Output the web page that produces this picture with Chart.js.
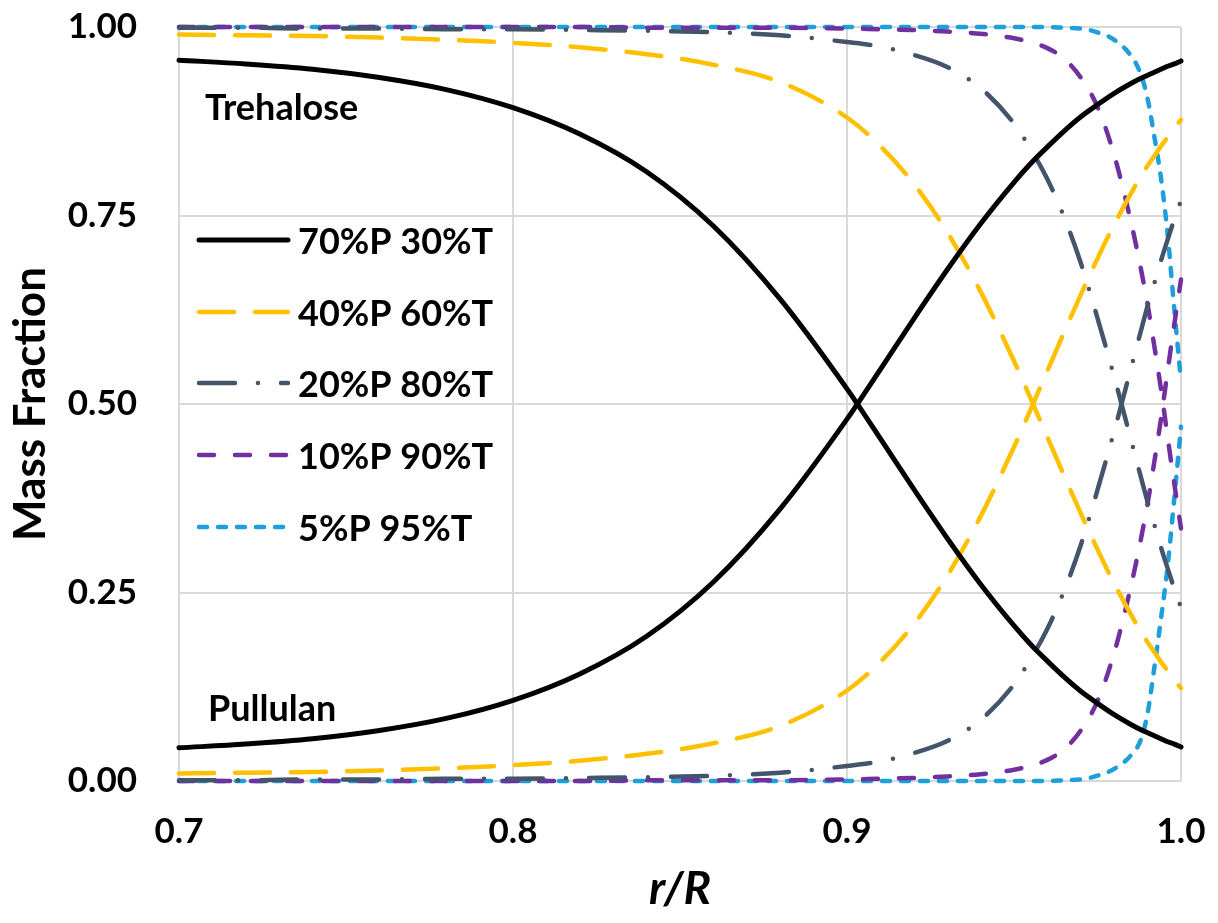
<!DOCTYPE html>
<html>
<head>
<meta charset="utf-8">
<script src="https://cdn.jsdelivr.net/npm/chart.js@4.4.1/dist/chart.umd.min.js"></script>
<style>
  html, body { margin: 0; padding: 0; background: #fff; }
  canvas { display: block; }
</style>
</head>
<body>
<canvas id="chart" width="1218" height="923"></canvas>
<script>
// radial position r/R (shared by every curve)
const rR = [0.70, 0.72, 0.74, 0.76, 0.78, 0.80, 0.82, 0.84, 0.86, 0.88,
  0.90, 0.91, 0.92, 0.93, 0.94, 0.95, 0.955, 0.96, 0.965, 0.97,
  0.975, 0.98, 0.985, 0.988, 0.99, 0.992, 0.994, 0.996, 0.998, 1.00];

const mixLabels = ["70%P 30%T", "40%P 60%T", "20%P 80%T", "10%P 90%T", "5%P 95%T"];

// trehalose mass fraction (falls toward the surface)
const treh70 = [0.956, 0.951, 0.944, 0.933, 0.917, 0.893, 0.858, 0.808, 0.736, 0.639,
  0.520, 0.454, 0.387, 0.322, 0.261, 0.206, 0.181, 0.159, 0.138, 0.119,
  0.103, 0.088, 0.075, 0.068, 0.064, 0.060, 0.056, 0.052, 0.049, 0.045];
const treh40 = [0.990, 0.989, 0.988, 0.986, 0.983, 0.979, 0.973, 0.964, 0.950, 0.927,
  0.880, 0.842, 0.792, 0.728, 0.649, 0.557, 0.507, 0.456, 0.405, 0.355,
  0.307, 0.262, 0.221, 0.198, 0.184, 0.171, 0.158, 0.146, 0.134, 0.123];
const treh20 = [0.999, 0.999, 0.998, 0.998, 0.997, 0.997, 0.996, 0.995, 0.993, 0.989,
  0.980, 0.974, 0.963, 0.947, 0.919, 0.872, 0.838, 0.798, 0.748, 0.687,
  0.614, 0.536, 0.453, 0.403, 0.370, 0.340, 0.310, 0.282, 0.255, 0.230];
const treh10 = [1.000, 1.000, 1.000, 1.000, 1.000, 1.000, 1.000, 0.999, 0.999, 0.999,
  0.998, 0.997, 0.996, 0.994, 0.991, 0.985, 0.980, 0.972, 0.958, 0.933,
  0.894, 0.830, 0.742, 0.679, 0.632, 0.577, 0.520, 0.456, 0.394, 0.335];
const treh5 = [1.000, 1.000, 1.000, 1.000, 1.000, 1.000, 1.000, 1.000, 1.000, 1.000,
  1.000, 1.000, 1.000, 1.000, 1.000, 1.000, 1.000, 1.000, 0.999, 0.998,
  0.993, 0.983, 0.962, 0.937, 0.905, 0.855, 0.800, 0.725, 0.625, 0.530];

// pullulan mass fraction (rises toward the surface)
const pull70 = [0.044, 0.049, 0.056, 0.067, 0.083, 0.107, 0.142, 0.192, 0.264, 0.361,
  0.480, 0.546, 0.613, 0.678, 0.739, 0.794, 0.819, 0.841, 0.862, 0.881,
  0.897, 0.912, 0.925, 0.932, 0.936, 0.940, 0.944, 0.948, 0.951, 0.955];
const pull40 = [0.010, 0.011, 0.012, 0.014, 0.017, 0.021, 0.027, 0.036, 0.050, 0.073,
  0.120, 0.158, 0.208, 0.272, 0.351, 0.443, 0.493, 0.544, 0.595, 0.645,
  0.693, 0.738, 0.779, 0.802, 0.816, 0.829, 0.842, 0.854, 0.866, 0.877];
const pull20 = [0.001, 0.001, 0.002, 0.002, 0.003, 0.003, 0.004, 0.005, 0.007, 0.011,
  0.020, 0.026, 0.037, 0.053, 0.081, 0.128, 0.162, 0.202, 0.252, 0.313,
  0.386, 0.464, 0.547, 0.597, 0.630, 0.660, 0.690, 0.718, 0.745, 0.770];
const pull10 = [0.000, 0.000, 0.000, 0.000, 0.000, 0.000, 0.000, 0.001, 0.001, 0.001,
  0.002, 0.003, 0.004, 0.006, 0.009, 0.015, 0.020, 0.028, 0.042, 0.067,
  0.106, 0.170, 0.258, 0.321, 0.368, 0.423, 0.480, 0.544, 0.606, 0.665];
const pull5 = [0.000, 0.000, 0.000, 0.000, 0.000, 0.000, 0.000, 0.000, 0.000, 0.000,
  0.000, 0.000, 0.000, 0.000, 0.000, 0.000, 0.000, 0.000, 0.001, 0.002,
  0.007, 0.016, 0.034, 0.055, 0.090, 0.150, 0.215, 0.285, 0.375, 0.470];

const trehalose = [treh70, treh40, treh20, treh10, treh5];
const pullulan = [pull70, pull40, pull20, pull10, pull5];

const styles = [
  { color: "#000000", dash: [], width: 5 },
  { color: "#FFC000", dash: [35, 21], width: 4.5 },
  { color: "#44546A", dash: [36, 23, 0, 23], width: 4.5 },
  { color: "#7030A0", dash: [15, 21], width: 4.5 },
  { color: "#1E9FDB", dash: [8, 11], width: 4.5 },
];

const FONT = "Lato";

const toPoints = (ys) => rR.map((x, i) => ({ x: x, y: ys[i] }));

const datasets = [];
mixLabels.forEach((label, i) => {
  const s = styles[i];
  [trehalose[i], pullulan[i]].forEach((ys) => {
    datasets.push({
      label: label,
      data: toPoints(ys),
      borderColor: s.color,
      borderWidth: s.width,
      borderDash: s.dash,
      borderCapStyle: "round",
      borderJoinStyle: "round",
      pointRadius: 0,
      cubicInterpolationMode: "monotone",
      fill: false,
      clip: 8,
    });
  });
});

// keep the plot box where the reference has it: no label overflow padding
const noOverflow = (scale) => {
  scale.paddingTop = 0;
  scale.paddingBottom = 0;
  scale.paddingLeft = 0;
  scale.paddingRight = 0;
};

// white page, legend lines and the two curve labels
const overlay = {
  id: "overlay",
  beforeDraw(chart) {
    const ctx = chart.ctx;
    ctx.save();
    ctx.fillStyle = "#fff";
    ctx.fillRect(0, 0, chart.width, chart.height);
    ctx.restore();
  },
  afterDraw(chart) {
    const ctx = chart.ctx;
    ctx.save();
    ctx.textBaseline = "middle";
    ctx.textAlign = "left";
    ctx.fillStyle = "#000";

    const rowY = [240, 312, 383, 455, 527];
    mixLabels.forEach((label, i) => {
      const s = styles[i];
      ctx.strokeStyle = s.color;
      ctx.lineWidth = s.width;
      ctx.lineCap = "round";
      ctx.setLineDash(s.dash);
      ctx.beginPath();
      ctx.moveTo(199, rowY[i]);
      ctx.lineTo(288, rowY[i]);
      ctx.stroke();
      ctx.setLineDash([]);
      ctx.font = "bold 36px " + FONT;
      ctx.fillText(label, 298, rowY[i] + 2);
    });

    ctx.font = "bold 36px " + FONT;
    ctx.fillText("Trehalose", 205, 108);
    ctx.fillText("Pullulan", 208, 709);
    ctx.restore();
  },
};

new Chart(document.getElementById("chart"), {
  type: "line",
  data: { datasets: datasets },
  options: {
    responsive: false,
    animation: false,
    layout: { padding: { top: 27, right: 37, left: 0, bottom: 0 } },
    plugins: {
      legend: { display: false },
      tooltip: { enabled: false },
    },
    scales: {
      x: {
        type: "linear",
        min: 0.7,
        max: 1.0,
        afterFit: (scale) => { scale.height = 142; noOverflow(scale); },
        ticks: {
          stepSize: 0.1,
          padding: 30,
          color: "#000",
          font: { family: FONT, size: 35, weight: "bold" },
          callback: (v) => v.toFixed(1),
        },
        grid: { color: "#D9D9D9", lineWidth: 2, drawTicks: false },
        border: { color: "#D9D9D9", width: 2 },
        title: {
          display: true,
          text: "r/R",
          color: "#000",
          font: { family: FONT, size: 46, weight: "bold", style: "italic", lineHeight: 1.2 },
          paddef: 0,
          padding: { top: 0, bottom: 6 },
        },
      },
      y: {
        min: 0,
        max: 1,
        afterFit: (scale) => { scale.width = 179; noOverflow(scale); },
        ticks: {
          stepSize: 0.25,
          padding: 42,
          color: "#000",
          font: { family: FONT, size: 35, weight: "bold" },
          callback: (v) => v.toFixed(2),
        },
        grid: { color: "#D9D9D9", lineWidth: 2, drawTicks: false },
        border: { color: "#D9D9D9", width: 2 },
        title: {
          display: true,
          text: "Mass Fraction",
          color: "#000",
          font: { family: FONT, size: 44, weight: "bold", lineHeight: 1.2 },
          padding: { top: 4, bottom: 0 },
        },
      },
    },
  },
  plugins: [overlay],
});
</script>
</body>
</html>
